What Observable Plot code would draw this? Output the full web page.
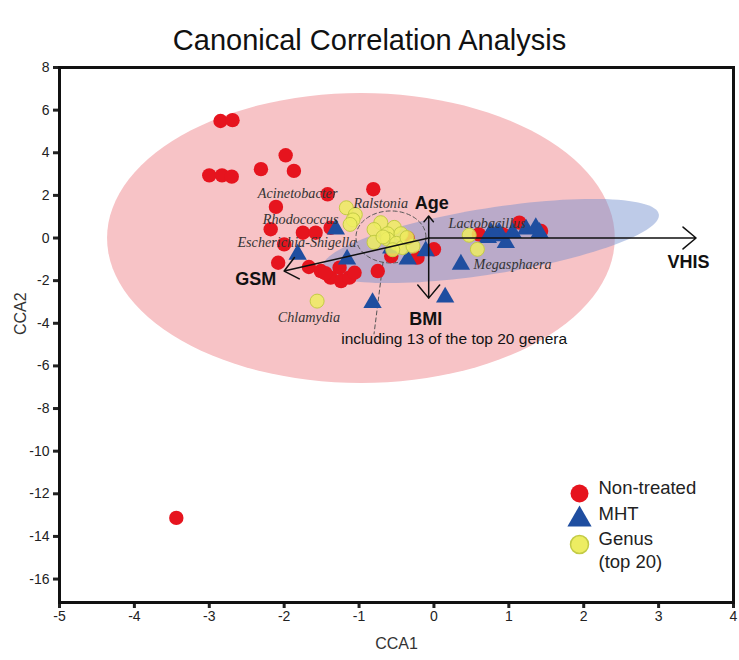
<!DOCTYPE html>
<html>
<head>
<meta charset="utf-8">
<script src="https://cdn.jsdelivr.net/npm/d3@7"></script>
<script src="https://cdn.jsdelivr.net/npm/@observablehq/plot@0.6"></script>
<style>
  html, body { margin: 0; padding: 0; background: #fff; }
  #title { height: 56px; box-sizing: border-box; padding-top: 26px; font: 29px "Liberation Sans", Arial, sans-serif; line-height: 29px; text-align: center; color: #111; width: 739px; }
  #chart svg { display: block; }
</style>
</head>
<body>
<div id="title">Canonical Correlation Analysis</div>
<div id="chart"></div>
<script>
// ---- data ----
const xTicks = [-5, -4, -3, -2, -1, 0, 1, 2, 3, 4];
const yTicks = [8, 6, 4, 2, 0, -2, -4, -6, -8, -10, -12, -14, -16];

// Non-treated samples [CCA1, CCA2]
const nonTreated = [
  [-2.85, 5.49], [-2.69, 5.53], [-1.98, 3.88], [-2.31, 3.23], [-1.87, 3.15],
  [-3.00, 2.94], [-2.83, 2.94], [-2.70, 2.88], [-1.42, 2.05], [-0.81, 2.29],
  [-2.11, 1.46], [-2.18, 0.41], [-1.75, 0.25], [-1.58, 0.25], [-1.38, 0.48],
  [-2.00, -0.30], [-2.08, -1.16], [-1.67, -1.36], [-1.51, -1.55], [-1.38, -1.86],
  [-1.24, -2.02], [-1.13, -1.86], [-1.06, -1.63], [-1.26, -1.39], [-1.45, -1.65],
  [-0.75, -1.55], [-0.57, -0.85], [-0.22, -0.92], [0.00, -0.53], [-0.35, 0.00],
  [0.60, 0.17], [0.92, 0.17], [1.14, 0.72], [1.43, 0.33], [-3.44, -13.13]
];
// MHT samples
const mht = [
  [-1.31, 0.41], [-1.82, -0.77], [-1.16, -1.00], [-0.35, -1.00], [-0.11, -0.61],
  [-0.57, -0.48], [-0.82, -3.04], [0.15, -2.78], [0.36, -1.24], [0.72, 0.01],
  [0.76, 0.25], [0.87, 0.25], [0.96, -0.22], [1.05, 0.25], [1.23, 0.41],
  [1.36, 0.48], [1.41, 0.25], [0.82, 0.10]
];
// Genus (top 20)
const genus = [
  [-1.17, 1.42], [-1.05, 1.10], [-1.08, 0.85], [-1.12, 0.64],
  [-0.71, 0.72], [-0.80, 0.40], [-0.53, 0.50], [-0.62, 0.20], [-0.44, 0.20],
  [-0.80, -0.20], [-0.62, -0.05], [-0.50, -0.25], [-0.42, -0.45], [-0.28, -0.38],
  [-0.68, 0.05], [-0.55, -0.55], [-0.36, 0.02],
  [0.47, 0.13], [0.58, -0.53], [-1.56, -2.96]
];
const genusLabels = ["Acinetobacter", "Rhodococcus", "Escherichia-Shigella", "Chlamydia", "Ralstonia", "Lactobacillus", "Megasphaera"];
const genusLabelX = [-1.82, -1.78, -1.83, -1.67, -0.71, 0.71, 1.05];
const genusLabelY = [2.07, 0.89, -0.19, -3.71, 1.60, 0.70, -1.22];

// Environmental vectors
const vectorOrigin = [-0.07, 0];
const vectorNames = ["VHIS", "GSM", "Age", "BMI"];
const vectorX = [3.5, -2.0, -0.07, -0.07];
const vectorY = [0, -1.55, 1.03, -2.82];
const vectorLabelX = [3.40, -2.38, -0.03, -0.11];
const vectorLabelY = [-1.13, -1.92, 1.64, -3.80];

// Group ellipses: centre and two half-axis vectors (data units)
const ellipseGroups = ["Non-treated", "MHT"];
const ellipseCenter = [[-0.975, 0.0], [0.76, -0.14]];
const ellipseAxisA = [[3.39, 0], [2.243, 1.249]];
const ellipseAxisB = [[0, 6.8], [0.069, -1.53]];

// dashed ring around the cluster + its pointer
const ringCenter = [-0.574, 0.05];
const ringRadii = [0.467, 1.22];
const pointer = [[-0.68, -1.14], [-0.80, -4.5]];
const note = "including 13 of the top 20 genera";
const noteXY = [0.27, -4.74];

const legendLabels = ["Non-treated", "MHT", "Genus", "(top 20)"];

// ---- build tables ----
const RED = "#e6141e", BLUE = "#1f4ea0", YEL = "#eded62", YELS = "#c3cb45";
const ptsNT = nonTreated.map(([x, y]) => ({x, y}));
const ptsM = mht.map(([x, y]) => ({x, y}));
const ptsG = genus.map(([x, y]) => ({x, y}));
const N = 120;
function ellipsePts(c, a, b) {
  return d3.range(N).map(i => {
    const t = (i / N) * 2 * Math.PI;
    return {x: c[0] + Math.cos(t) * a[0] + Math.sin(t) * b[0], y: c[1] + Math.cos(t) * a[1] + Math.sin(t) * b[1]};
  });
}
const ellPink = ellipsePts(ellipseCenter[0], ellipseAxisA[0], ellipseAxisB[0]);
const ellBlue = ellipsePts(ellipseCenter[1], ellipseAxisA[1], ellipseAxisB[1]);
const ring = ellipsePts(ringCenter, [ringRadii[0], 0], [0, ringRadii[1]]);
const labelsG = genusLabels.map((t, i) => ({t, x: genusLabelX[i], y: genusLabelY[i]}));
const vecs = vectorNames.map((n, i) => ({n, x: vectorX[i], y: vectorY[i], lx: vectorLabelX[i], ly: vectorLabelY[i]}));
const pointerRows = pointer.map(([x, y]) => ({x, y}));

const font = "Liberation Sans, Arial, sans-serif";
const legendDy = [-109, -83, -58, -35];

const chart = Plot.plot({
  width: 739,
  height: 604,
  marginTop: 11,
  marginBottom: 58,
  marginLeft: 59,
  marginRight: 6,
  style: {fontFamily: font, background: "#fff", color: "#222"},
  x: {domain: [-5, 4]},
  y: {domain: [-17.1, 8]},
  marks: [
    Plot.line(ellPink, {x: "x", y: "y", curve: "linear-closed", fill: "#f7c3c6", stroke: "none"}),
    Plot.line(ellBlue, {x: "x", y: "y", curve: "linear-closed", fill: "rgb(110,140,205)", fillOpacity: 0.45, stroke: "none"}),
    Plot.line(ring, {x: "x", y: "y", curve: "linear-closed", stroke: "#555", strokeWidth: 1, strokeDasharray: "4,3", fill: "none"}),
    Plot.line(pointerRows, {x: "x", y: "y", stroke: "#555", strokeWidth: 1, strokeDasharray: "4,3"}),
    Plot.dot(ptsNT, {x: "x", y: "y", r: 7.2, fill: RED, stroke: "none"}),
    Plot.dot(ptsM, {x: "x", y: "y", r: 6.8, symbol: "triangle", fill: BLUE, stroke: "none"}),
    Plot.dot(ptsG, {x: "x", y: "y", r: 7, fill: YEL, fillOpacity: 0.85, stroke: YELS, strokeWidth: 1}),
    Plot.arrow(vecs, {x1: () => vectorOrigin[0], y1: () => vectorOrigin[1], x2: "x", y2: "y", stroke: "#111", strokeWidth: 1.5, headLength: 17, headAngle: 80}),
    Plot.text(vecs, {x: "lx", y: "ly", text: "n", fontSize: 18, fontWeight: "bold", fill: "#111", fontFamily: font}),
    Plot.text(labelsG, {x: "x", y: "y", text: "t", fontSize: 14.2, fontStyle: "italic", fontFamily: "Liberation Serif, Times New Roman, serif", fill: "#333"}),
    Plot.text([note], {x: () => noteXY[0], y: () => noteXY[1], text: d => d, fontSize: 15.5, fill: "#111", fontFamily: font}),
    // legend
    Plot.dot([legendLabels[0]], {frameAnchor: "bottom-right", dx: -154, dy: legendDy[0], r: 9, fill: RED}),
    Plot.dot([legendLabels[1]], {frameAnchor: "bottom-right", dx: -154, dy: legendDy[1], r: 9, symbol: "triangle", fill: BLUE}),
    Plot.dot([legendLabels[2]], {frameAnchor: "bottom-right", dx: -154, dy: legendDy[2], r: 9, fill: YEL, stroke: YELS}),
    ...legendLabels.map((lab, i) => Plot.text([lab], {frameAnchor: "bottom-right", dx: -135, dy: legendDy[i], text: d => d, textAnchor: "start", fontSize: 18.5, fill: "#222"})),
    // axes
    Plot.axisX({ticks: xTicks, tickFormat: d => String(d), tickSize: 6, tickPadding: 3, strokeWidth: 3, fontSize: 14, label: null, color: "#222"}),
    Plot.axisY({ticks: yTicks, tickFormat: d => String(d), tickSize: 6, tickPadding: 4, strokeWidth: 3, fontSize: 14, label: null, color: "#222"}),
    Plot.text(["CCA1"], {frameAnchor: "bottom", dy: 46, text: d => d, fontSize: 16, fill: "#333"}),
    Plot.text(["CCA2"], {frameAnchor: "left", dx: -39, rotate: -90, text: d => d, fontSize: 16, fill: "#333"}),
    Plot.frame({stroke: "#111", strokeWidth: 3})
  ]
});
document.getElementById("chart").appendChild(chart);
</script>
</body>
</html>
